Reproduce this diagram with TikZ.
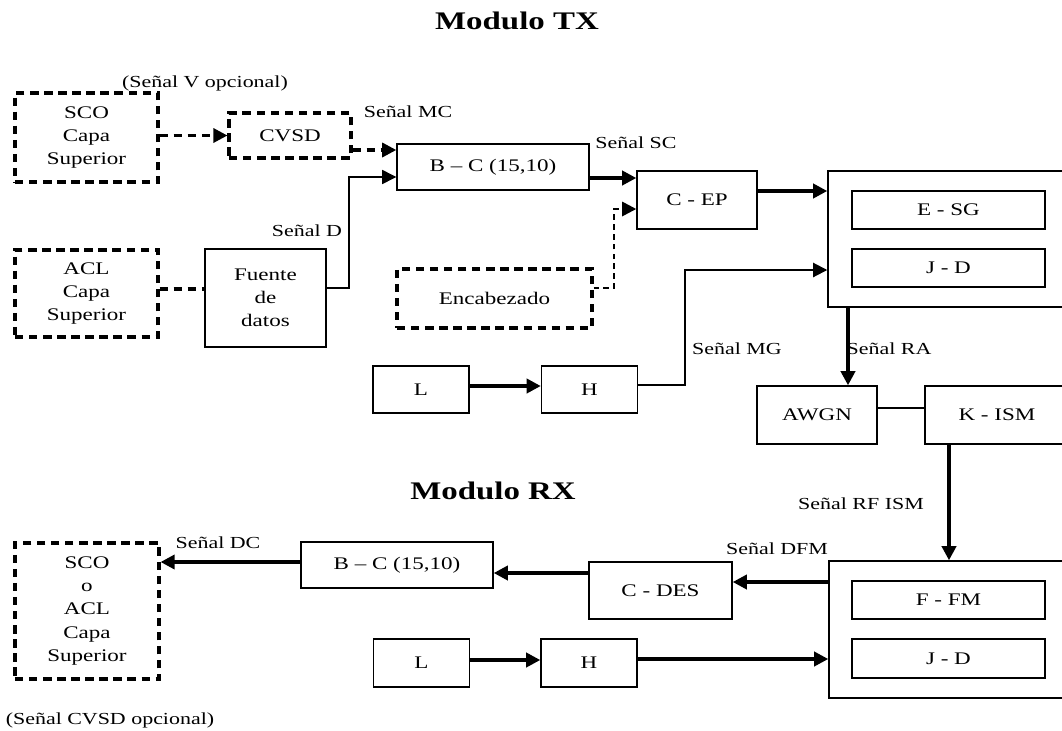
\documentclass[tikz,border=0pt]{standalone}
\usepackage{fontspec}
\setmainfont{Liberation Serif}[FakeStretch=1.3]
\usetikzlibrary{arrows.meta}

\tikzset{
  every node/.style={font=\fontsize{12}{16}\selectfont},
  titulo/.style={font=\fontsize{18}{20}\selectfont\bfseries},
  bloque/.style={draw, line width=1pt, inner sep=0pt, align=center, font=\fontsize{12.6}{16.5}\selectfont},
  bloqued/.style={bloque, line width=2.2pt, dash pattern=on 6pt off 4pt},
  punta/.style={-{Triangle[length=10pt,width=10pt]}},
  flecha/.style={line width=2.4pt, punta},
  flechad/.style={line width=2.2pt, dash pattern=on 6pt off 4pt},
  linea/.style={line width=1pt}
}

\begin{document}
\begin{tikzpicture}[x=0.025cm,y=-0.025cm]
\useasboundingbox (0,0) rectangle (1062,730);
\clip (0,0) rectangle (1062,730);

\node[titulo] (tx) at (517,21) {Modulo TX};
\node[titulo] (rx) at (493,491) {Modulo RX};

% Modulo TX
\node[bloqued, minimum width=3.575cm, minimum height=2.225cm] (sco) at (86.5,137.5) {SCO\\Capa\\Superior};
\node[bloqued, minimum width=3.575cm, minimum height=2.175cm] (acl) at (86.5,293.5) {ACL\\Capa\\Superior};
\node[bloqued, minimum width=3.05cm, minimum height=1.125cm] (cvsd) at (290,135.5) {CVSD};
\node[bloque, minimum width=3.025cm, minimum height=2.45cm] (fuente) at (265.5,298) {Fuente\\de\\datos};
\node[bloque, minimum width=4.8cm, minimum height=1.15cm] (bc) at (493,167) {B -- C (15,10)};
\node[bloque, minimum width=3.0cm, minimum height=1.45cm] (cep) at (697,200) {C - EP};
\node[bloqued, minimum width=4.875cm, minimum height=1.475cm] (enc) at (494.5,298.5) {Encabezado};
\node[bloque, minimum width=6.025cm, minimum height=3.4cm] (bigtx) at (948.5,239) {};
\node[bloque, minimum width=4.825cm, minimum height=0.95cm] (esg) at (948.5,210) {E - SG};
\node[bloque, minimum width=4.825cm, minimum height=0.95cm] (jdtx) at (948.5,268) {J - D};
\node[bloque, minimum width=2.4cm, minimum height=1.175cm] (ltx) at (421,389.5) {L};
\node[bloque, minimum width=2.4cm, minimum height=1.175cm] (htx) at (589.5,389.5) {H};
\node[bloque, minimum width=3.0cm, minimum height=1.45cm] (awgn) at (817,415) {AWGN};
\node[bloque, minimum width=3.6cm, minimum height=1.45cm] (kism) at (997,415) {K - ISM};

\node (lblv) at (205,83) {(Señal V opcional)};
\node (lblmc) at (408,112) {Señal MC};
\node (lblsc) at (636,143) {Señal SC};
\node (lbld) at (307,231) {Señal D};
\node (lblmg) at (737,349) {Señal MG};
\node (lblra) at (889,349) {Señal RA};

\draw[flechad, punta] (sco.east |- cvsd) -- (cvsd.west);
\draw[flechad, punta] (cvsd.east |- 0,150) -- (bc.west |- 0,150);
\draw[flechad] (acl.east |- 0,289) -- (fuente.west |- 0,289);
\draw[linea, punta] (fuente.east |- 0,288) -- (349,288) |- (bc.west |- 0,177);
\draw[flecha] (bc.east |- 0,178) -- (cep.west |- 0,178);
\draw[line width=1.8pt, dash pattern=on 4pt off 3pt, punta] (enc.east |- 0,288) -- (614,288) |- (cep.west |- 0,209);
\draw[flecha] (cep.east |- 0,191) -- (bigtx.west |- 0,191);
\draw[flecha] (ltx.east |- 0,386) -- (htx.west |- 0,386);
\draw[line width=1.4pt, punta] (htx.east |- 0,385) -- (685,385) |- (bigtx.west |- 0,270);
\draw[flecha] (bigtx.south -| 848,0) -- (awgn.north -| 848,0);
\draw[linea] (awgn.east |- 0,408) -- (kism.west |- 0,408);

% Modulo RX
\node[bloqued, minimum width=3.6cm, minimum height=3.4cm] (sink) at (87,611) {SCO\\o\\ACL\\Capa\\Superior};
\node[bloque, minimum width=4.8cm, minimum height=1.15cm] (bcrx) at (397,565) {B -- C (15,10)};
\node[bloque, minimum width=3.575cm, minimum height=1.425cm] (cdes) at (660.5,590.5) {C - DES};
\node[bloque, minimum width=6.0cm, minimum height=3.425cm] (bigrx) at (949,629.5) {};
\node[bloque, minimum width=4.825cm, minimum height=0.95cm] (ffm) at (948.5,600) {F - FM};
\node[bloque, minimum width=4.825cm, minimum height=0.975cm] (jdrx) at (948.5,658.5) {J - D};
\node[bloque, minimum width=2.4cm, minimum height=1.2cm] (lrx) at (421.5,663) {L};
\node[bloque, minimum width=2.4cm, minimum height=1.2cm] (hrx) at (589,663) {H};

\node (lblrf) at (861,504) {Señal RF ISM};
\node (lbldfm) at (777,549) {Señal DFM};
\node (lbldc) at (218,543) {Señal DC};
\node (lblcvsd) at (110,720) {(Señal CVSD opcional)};

\draw[flecha] (kism.south -| bigrx) -- (bigrx.north);
\draw[flecha] (bigrx.west |- 0,582) -- (cdes.east |- 0,582);
\draw[flecha] (cdes.west |- 0,573) -- (bcrx.east |- 0,573);
\draw[flecha] (bcrx.west |- 0,562) -- (sink.east |- 0,562);
\draw[flecha] (lrx.east |- 0,660) -- (hrx.west |- 0,660);
\draw[flecha] (hrx.east |- 0,659) -- (bigrx.west |- 0,659);
\end{tikzpicture}
\end{document}
